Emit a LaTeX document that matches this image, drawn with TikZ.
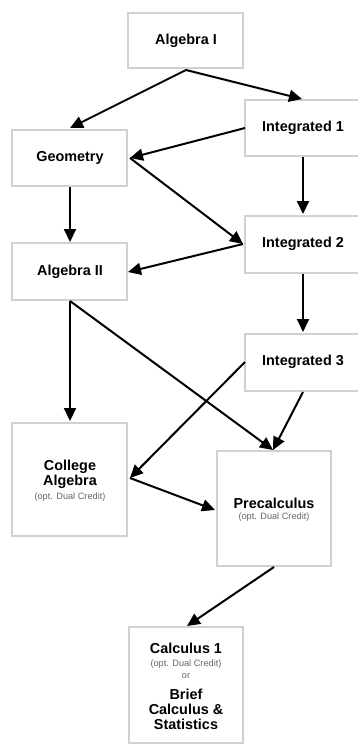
\documentclass[tikz,border=0pt]{standalone}
\usepackage{fontspec}
\setmainfont{Liberation Sans}
\usetikzlibrary{arrows.meta}
\begin{document}
\begin{tikzpicture}[x=1pt,y=-1pt,
  box/.style={draw=black!18,line width=2pt,fill=white},
  lbl/.style={font=\bfseries\fontsize{14.4}{16}\selectfont,align=center},
  sm/.style={font=\fontsize{9.2}{11}\selectfont},
  arr/.style={line width=2pt,-{Triangle[length=13pt,width=12pt]}}]
\useasboundingbox (0,0) rectangle (358,744);
% boxes
\draw[box] (128,13) rectangle (243,68);
\node[lbl] (a1) at (186,41) {Algebra I};
\draw[box] (245,100) rectangle (362,156);
\node[lbl] (i1) at (303,128) {Integrated 1};
\draw[box] (12,130) rectangle (127,186);
\node[lbl] (ge) at (70,158) {Geometry};
\draw[box] (245,216) rectangle (362,273);
\node[lbl] (i2) at (303,244) {Integrated 2};
\draw[box] (12,243) rectangle (127,300);
\node[lbl] (a2) at (70,272) {Algebra II};
\draw[box] (245,334) rectangle (362,391);
\node[lbl] (i3) at (303,362) {Integrated 3};
\draw[box] (12,423) rectangle (127,536);
\node[lbl] (ca) at (70,474) {College\\[-1pt]Algebra};
\node[sm,text=black!60] (cas) at (70,497) {(opt. Dual Credit)};
\draw[box] (217,451) rectangle (331,566);
\node[lbl] (pc) at (274,503) {Precalculus};
\node[sm,text=black!60] (pcs) at (274,517) {(opt. Dual Credit)};
\draw[box] (129,627) rectangle (243,743);
\node[lbl] (c1) at (186,648) {Calculus 1};
\node[sm,text=black!60] (c1s) at (186,664) {(opt. Dual Credit)};
\node[sm,text=black!60] (or) at (186,676) {or};
\node[lbl] (bc) at (186,709) {Brief\\[-1pt]Calculus \&\\[-1pt]Statistics};
% anchor coordinates
\coordinate (a1b) at (186,70);
\coordinate (ge t) at (70,128);
\coordinate (i1t) at (302,99);
\coordinate (i1l) at (245,128);
\coordinate (ger) at (130,158);
\coordinate (i2l) at (243,244);
\coordinate (i1b) at (303,157);
\coordinate (i2t) at (303,214);
\coordinate (geb) at (70,187);
\coordinate (a2t) at (70,242);
\coordinate (a2r) at (128,272);
\coordinate (i2b) at (303,274);
\coordinate (i3t) at (303,332);
\coordinate (a2b) at (70,301);
\coordinate (cat) at (70,421);
\coordinate (pct) at (273,450);
\coordinate (i3l) at (245,362);
\coordinate (car) at (130,478);
\coordinate (i3b) at (303,392);
\coordinate (pcl) at (215,510);
\coordinate (pcb) at (274,567);
\coordinate (c1t) at (187,626);
% arrows
\draw[arr] (a1b) -- (ge t);
\draw[arr] (a1b) -- (i1t);
\draw[arr] (i1l) -- (ger);
\draw[arr] (ger) -- (i2l);
\draw[arr] (i1b) -- (i2t);
\draw[arr] (geb) -- (a2t);
\draw[arr] (i2l) -- (a2r);
\draw[arr] (i2b) -- (i3t);
\draw[arr] (a2b) -- (cat);
\draw[arr] (a2b) -- (pct);
\draw[arr] (i3l) -- (car);
\draw[arr] (i3b) -- (pct);
\draw[arr] (car) -- (pcl);
\draw[arr] (pcb) -- (c1t);
\end{tikzpicture}
\end{document}
